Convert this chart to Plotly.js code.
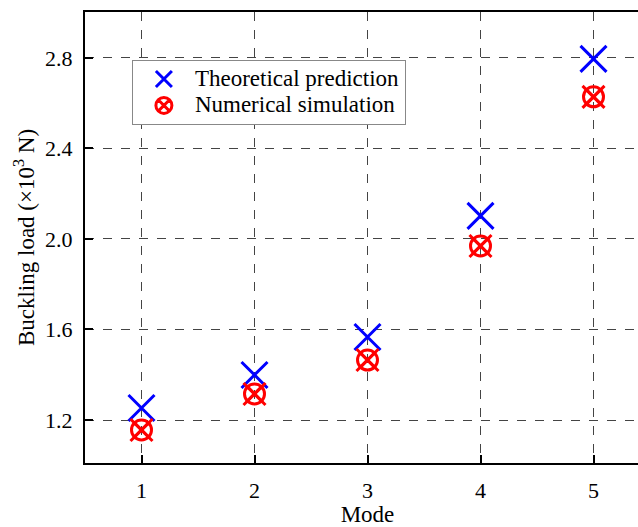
<!DOCTYPE html>
<html><head><meta charset="utf-8">
<script src="https://cdn.plot.ly/plotly-3.0.1.min.js"></script>
<style>html,body{margin:0;padding:0;overflow:hidden;background:#fff;width:638px;height:527px}</style>
</head><body><div id="chart"></div>
<script>
const modes = [1, 2, 3, 4, 5];
const theoretical = [1.253, 1.399, 1.567, 2.102, 2.796];
const numerical = [1.156, 1.315, 1.465, 1.969, 2.628];
const seriesNames = ['Theoretical prediction', 'Numerical simulation'];
const xTicks = [1, 2, 3, 4, 5];
const yTicks = [1.2, 1.6, 2.0, 2.4, 2.8];

const FAM = 'Liberation Serif';
const big = s => '<span style="font-size:23px">' + s + '</span>';
const traces = [
  {x: modes, y: theoretical, mode: 'markers', type: 'scatter', name: big(seriesNames[0]),
   marker: {symbol: 'x-thin', size: 26, color: '#0000ff', line: {color: '#0000ff', width: 3}}},
  {x: modes, y: numerical, mode: 'markers', type: 'scatter', name: big(seriesNames[1]),
   marker: {symbol: 'circle-x-open', size: 20, color: '#ff0000', line: {color: '#ff0000', width: 3}}},
  {x: modes, y: numerical, mode: 'markers', type: 'scatter', showlegend: false, hoverinfo: 'skip',
   marker: {symbol: 'x-thin', size: 22, color: '#ff0000', line: {color: '#ff0000', width: 3}}}
];
const layout = {
  width: 666, height: 527,
  margin: {l: 85, r: 16, t: 12, b: 64},
  paper_bgcolor: '#fff', plot_bgcolor: '#fff',
  font: {family: FAM, size: 21, color: '#000'},
  showlegend: true,
  legend: {x: 0.083, y: 0.894, xanchor: 'left', yanchor: 'top', bgcolor: '#fff',
           bordercolor: '#888', borderwidth: 1, font: {family: FAM, size: 18, color: '#000'},
           tracegroupgap: 0, itemwidth: 52},
  xaxis: {range: [0.5, 5.5], tickvals: xTicks, ticktext: xTicks.map(String),
          showline: true, linecolor: '#000', linewidth: 2, mirror: true,
          ticks: 'inside', ticklen: 8, tickwidth: 2, tickcolor: '#000', ticklabelstandoff: 7,
          showgrid: true, gridcolor: '#444', gridwidth: 1, griddash: 'dash', zeroline: false,
          title: {text: 'Mode', font: {family: FAM, size: 23, color: '#000'}, standoff: 4},
          tickfont: {family: FAM, size: 22, color: '#000'}},
  yaxis: {range: [1.01, 3.003], tickvals: yTicks, ticktext: yTicks.map(v => v.toFixed(1)),
          showline: true, linecolor: '#000', linewidth: 2, mirror: true,
          ticks: 'inside', ticklen: 8, tickwidth: 2, tickcolor: '#000', ticklabelstandoff: 6,
          showgrid: true, gridcolor: '#444', gridwidth: 1, griddash: 'dash', zeroline: false,
          title: {text: 'Buckling load (×10<sup>3</sup> N)', font: {family: FAM, size: 23, color: '#000'}, standoff: 4},
          tickfont: {family: FAM, size: 22, color: '#000'}}
};
Plotly.newPlot('chart', traces, layout, {displayModeBar: false, staticPlot: true});
</script></body></html>
